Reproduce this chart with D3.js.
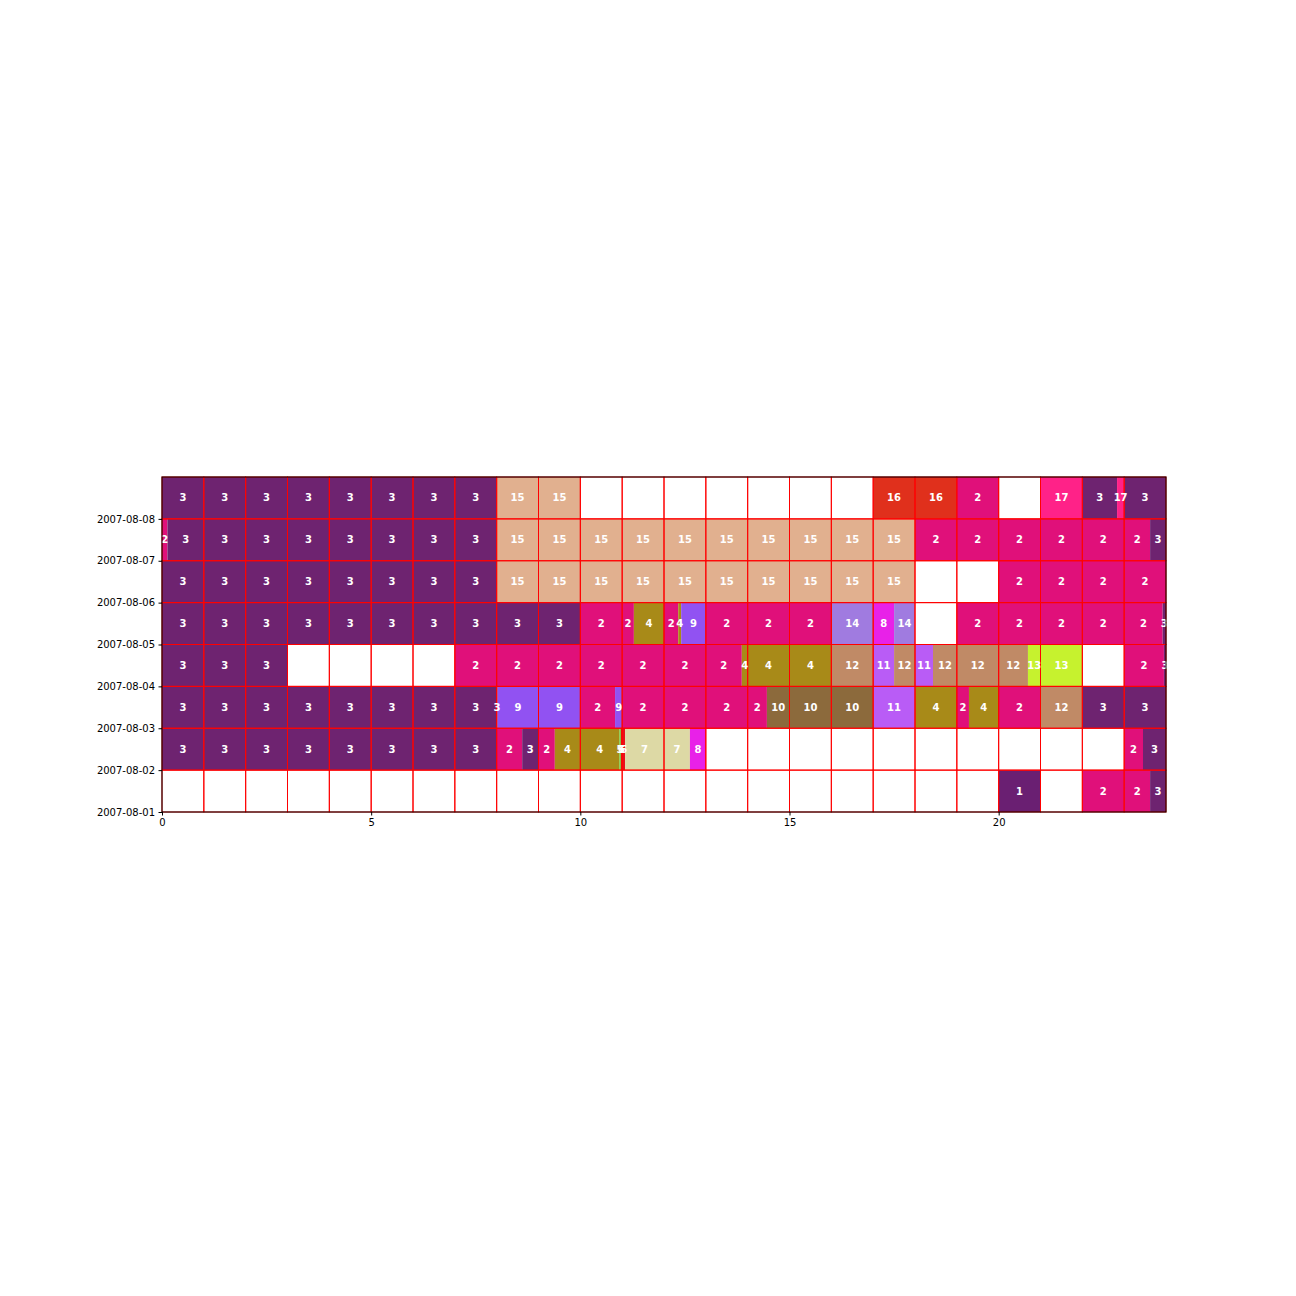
<!DOCTYPE html>
<html lang="en">
<head>
    <meta charset="UTF-8">
    <title>Daily activity timeline</title>
    <script src="https://cdn.jsdelivr.net/npm/d3@7/dist/d3.min.js"></script>
    <style>
        body { margin: 0; background: #fff; }
        .axis text { font-family: "DejaVu Sans", sans-serif; font-size: 10px; fill: #000; }
        .axis path, .axis line { stroke: #000; }
    </style>
</head>
<body>
<div id="chart"></div>
<script>
    // days shown as rows, bottom to top
    var days = ["2007-08-01", "2007-08-02", "2007-08-03", "2007-08-04",
                "2007-08-05", "2007-08-06", "2007-08-07", "2007-08-08"];
    var yTicks = ["2007-08-01", "2007-08-02", "2007-08-03", "2007-08-04",
                  "2007-08-05", "2007-08-06", "2007-08-07", "2007-08-08"];
    var xTicks = [0, 5, 10, 15, 20];

    // segments per day: [start hour, end hour, activity]
    var aug01 = [[20, 21, 1], [22, 23.62, 2], [23.62, 24, 3]];
    var aug02 = [[0, 8, 3], [8, 8.61, 2], [8.61, 9, 3], [9, 9.39, 2], [9.39, 10.93, 4],
                 [10.93, 10.97, 5], [10.97, 11.07, 6], [11.07, 12.62, 7], [12.62, 13, 8],
                 [23, 23.45, 2], [23.45, 24, 3]];
    var aug03 = [[0, 8.02, 3], [8.02, 10, 9], [10, 10.83, 2], [10.83, 11, 9], [11, 14.46, 2],
                 [14.46, 17, 10], [17, 18, 11], [18, 19, 4], [19, 19.29, 2], [19.29, 20, 4],
                 [20, 21, 2], [21, 22, 12], [22, 24, 3]];
    var aug04 = [[0, 3, 3], [7, 13.86, 2], [13.86, 16, 4], [16, 17, 12], [17, 17.5, 11],
                 [17.5, 18, 12], [18, 18.43, 11], [18.43, 20.7, 12], [20.7, 22, 13],
                 [23, 23.95, 2], [23.95, 24, 3]];
    var aug05 = [[0, 10, 3], [10, 11.28, 2], [11.28, 12, 4], [12, 12.34, 2], [12.34, 12.41, 4],
                 [12.41, 13, 9], [13, 16, 2], [16, 17, 14], [17, 17.5, 8], [17.5, 18, 14],
                 [19, 23.92, 2], [23.92, 24, 3]];
    var aug06 = [[0, 8, 3], [8, 18, 15], [20, 24, 2]];
    var aug07 = [[0, 0.13, 2], [0.13, 8, 3], [8, 18, 15], [18, 23.62, 2], [23.62, 24, 3]];
    var aug08 = [[0, 8, 3], [8, 10, 15], [17, 19, 16], [19, 20, 2], [21, 22, 17],
                 [22, 22.83, 3], [22.83, 23, 17], [23, 24, 3]];
    var schedule = [aug01, aug02, aug03, aug04, aug05, aug06, aug07, aug08];

    var colors = {
        1: "#6a1f72", 2: "#e0107a", 3: "#6e2370", 4: "#a88a18", 5: "#7cc83c",
        6: "#e8101c", 7: "#ddd9a5", 8: "#e821e8", 9: "#9152f2", 10: "#8c6a3c",
        11: "#b95cf6", 12: "#c08a66", 13: "#c6f22e", 14: "#a07be0", 15: "#e1b08f",
        16: "#e0301c", 17: "#ff2288"
    };

    var width = 1296;
    var height = 1296;
    var padding = {left: 162, right: 130, top: 477, bottom: 484};
    var innerW = width - padding.left - padding.right;
    var innerH = height - padding.top - padding.bottom;

    var svg = d3.select("#chart")
            .append("svg")
            .attr("width", width)
            .attr("height", height);

    var parse = d3.utcParse("%Y-%m-%d");

    var xScale = d3.scaleLinear()
            .domain([0, 24])
            .range([0, innerW]);

    var yStart = parse(days[0]);
    var yEnd = d3.utcDay.offset(parse(days[days.length - 1]), 1);
    var yScale = d3.scaleUtc()
            .domain([yStart, yEnd])
            .range([innerH, 0]);

    var g = svg.append("g")
            .attr("transform", "translate(" + padding.left + "," + padding.top + ")");

    // split every segment at the hour lines, one piece per hour cell
    var pieces = [];
    var cells = [];
    schedule.forEach(function (segs, i) {
        var day = parse(days[i]);
        d3.range(0, 24).forEach(function (h) {
            cells.push({day: day, h: h});
            segs.forEach(function (s) {
                var a = Math.max(s[0], h), b = Math.min(s[1], h + 1);
                if (b > a) pieces.push({day: day, a: a, b: b, act: s[2]});
            });
        });
    });

    function rowTop(day) { return yScale(d3.utcDay.offset(day, 1)); }
    function rowH(day) { return yScale(day) - yScale(d3.utcDay.offset(day, 1)); }

    // white background cells
    g.selectAll("rect.bg")
            .data(cells)
            .enter()
            .append("rect")
            .attr("class", "bg")
            .attr("x", function (d) { return xScale(d.h); })
            .attr("y", function (d) { return rowTop(d.day); })
            .attr("width", xScale(1) - xScale(0))
            .attr("height", function (d) { return rowH(d.day); })
            .attr("fill", "#fff");

    // coloured pieces
    g.selectAll("rect.seg")
            .data(pieces)
            .enter()
            .append("rect")
            .attr("class", "seg")
            .attr("x", function (d) { return xScale(d.a); })
            .attr("y", function (d) { return rowTop(d.day); })
            .attr("width", function (d) { return xScale(d.b) - xScale(d.a); })
            .attr("height", function (d) { return rowH(d.day); })
            .attr("fill", function (d) { return colors[d.act]; });

    // red hour cell borders
    g.selectAll("rect.cell")
            .data(cells)
            .enter()
            .append("rect")
            .attr("class", "cell")
            .attr("x", function (d) { return xScale(d.h); })
            .attr("y", function (d) { return rowTop(d.day); })
            .attr("width", xScale(1) - xScale(0))
            .attr("height", function (d) { return rowH(d.day); })
            .attr("fill", "none")
            .attr("stroke", "#ff0000")
            .attr("stroke-width", 1);

    // labels
    g.selectAll("text.lab")
            .data(pieces)
            .enter()
            .append("text")
            .attr("class", "lab")
            .attr("x", function (d) { return xScale((d.a + d.b) / 2); })
            .attr("y", function (d) { return rowTop(d.day) + rowH(d.day) / 2; })
            .attr("dy", "0.35em")
            .attr("text-anchor", "middle")
            .style("font-family", "DejaVu Sans, sans-serif")
            .style("font-size", "10px")
            .style("font-weight", "bold")
            .style("fill", "#fff")
            .text(function (d) { return d.act; });

    // frame
    g.append("rect")
            .attr("width", innerW)
            .attr("height", innerH)
            .attr("fill", "none")
            .attr("stroke", "#000")
            .attr("stroke-width", 1);

    var xAxis = d3.axisBottom(xScale)
            .tickValues(xTicks)
            .tickSize(3.5)
            .tickPadding(3.5)
            .tickFormat(d3.format("d"));

    var yAxis = d3.axisLeft(yScale)
            .tickValues(yTicks.map(parse))
            .tickSize(3.5)
            .tickPadding(3.5)
            .tickFormat(d3.utcFormat("%Y-%m-%d"));

    g.append("g")
            .attr("class", "axis")
            .attr("transform", "translate(0," + innerH + ")")
            .call(xAxis)
            .call(function (s) { s.select(".domain").remove(); });

    g.append("g")
            .attr("class", "axis")
            .call(yAxis)
            .call(function (s) { s.select(".domain").remove(); });
</script>
</body>
</html>
